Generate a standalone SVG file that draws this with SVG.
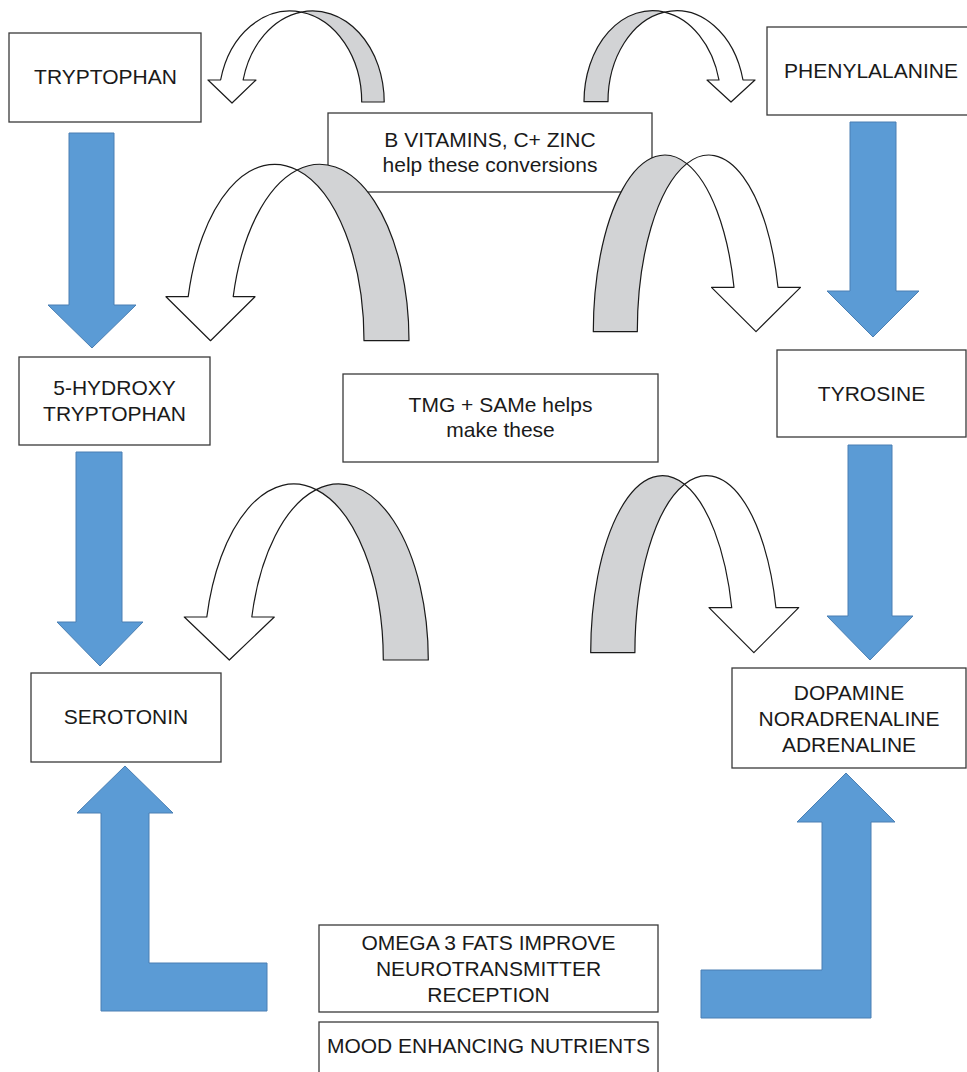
<svg xmlns="http://www.w3.org/2000/svg" width="967" height="1072" viewBox="0 0 967 1072">
<style>
.box{fill:#ffffff;stroke:#3a3a3a;stroke-width:1.3}
.t{font-family:"Liberation Sans",Arial,sans-serif;font-size:21px;fill:#1a1a1a;text-anchor:middle}
.blue{fill:#5b9bd5;stroke:#4a7fb3;stroke-width:1}
.front{fill:#ffffff;stroke:#1a1a1a;stroke-width:1.2;stroke-linejoin:round}
.back{fill:#d2d3d5;stroke:#1a1a1a;stroke-width:1.2;stroke-linejoin:round}
</style>
<rect width="967" height="1072" fill="#ffffff"/>
<g id="b-vitamins">
<rect class="box" x="328" y="113" width="324" height="79"/>
<text class="t" x="490" y="147">B VITAMINS, C+ ZINC</text>
<text class="t" x="490" y="172">help these conversions</text>
</g>
<g id="tryptophan">
<rect class="box" x="9" y="33" width="192" height="89"/>
<text class="t" x="105.5" y="84">TRYPTOPHAN</text>
</g>
<g id="phenylalanine">
<rect class="box" x="767" y="27" width="212" height="88"/>
<text class="t" x="871" y="78">PHENYLALANINE</text>
</g>
<g id="hydroxytryptophan">
<rect class="box" x="19" y="357" width="191" height="88"/>
<text class="t" x="114.5" y="395">5-HYDROXY</text>
<text class="t" x="114.5" y="421">TRYPTOPHAN</text>
</g>
<g id="tmg-same">
<rect class="box" x="343" y="374" width="315" height="88"/>
<text class="t" x="500.5" y="412">TMG + SAMe helps</text>
<text class="t" x="500.5" y="437">make these</text>
</g>
<g id="tyrosine">
<rect class="box" x="777" y="350" width="189" height="87"/>
<text class="t" x="871.5" y="401">TYROSINE</text>
</g>
<g id="serotonin">
<rect class="box" x="31" y="673" width="190" height="89"/>
<text class="t" x="126" y="724">SEROTONIN</text>
</g>
<g id="dopamine">
<rect class="box" x="732" y="668" width="234" height="100"/>
<text class="t" x="849" y="700">DOPAMINE</text>
<text class="t" x="849" y="726">NORADRENALINE</text>
<text class="t" x="849" y="751.5">ADRENALINE</text>
</g>
<g id="omega3">
<rect class="box" x="319" y="925" width="339" height="87"/>
<text class="t" x="488.5" y="950">OMEGA 3 FATS IMPROVE</text>
<text class="t" x="488.5" y="976">NEUROTRANSMITTER</text>
<text class="t" x="488.5" y="1002">RECEPTION</text>
</g>
<g id="mood">
<rect class="box" x="319" y="1022" width="339" height="70"/>
<text class="t" x="488.5" y="1053">MOOD ENHANCING NUTRIENTS</text>
</g>
<g id="connectors">
<path class="blue" d="M69,133 L114,133 L114,305 L136,305 L92,348 L48,305 L69,305 Z"/>
<path class="blue" d="M76,452 L122,452 L122,622 L143,622 L100,666 L57,622 L76,622 Z"/>
<path class="blue" d="M850,122 L896,122 L896,291 L919,291 L873,337 L827,291 L850,291 Z"/>
<path class="blue" d="M848,445 L892,445 L892,616 L913,616 L870,660 L827,616 L848,616 Z"/>
<path class="blue" d="M125,766 L173,813 L149,813 L149,963 L267,963 L267,1011 L101,1011 L101,813 L77,813 Z"/>
<path class="blue" d="M846,773 L895,822 L871,822 L871,1018 L701,1018 L701,970 L822,970 L822,822 L797,822 Z"/>
<path class="back" d="M301.35,12.1 A71.6,91 0 0 1 384.2,102 L361.7,102 A71.6,91 0 0 0 301.35,12.1 Z"/>
<path class="front" d="M220.6,80 A71.6,91 0 0 1 301.35,12.1 A71.6,91 0 0 0 243.1,80 L256,80 L232,103 L208,80 Z"/>
<path class="back" d="M664.5,12.1 A68.5,91 0 0 0 584,101.7 L608,101.7 A68.5,91 0 0 1 664.5,12.1 Z"/>
<path class="front" d="M743,80 A68.5,91 0 0 0 664.5,12.1 A68.5,91 0 0 1 719,80 L707,80 L731,102 L755,80 Z"/>
<path class="back" d="M297.2,170 A89.3,176.4 0 0 1 409,340.7 L364,340.7 A89.3,176.4 0 0 0 297.2,170 Z"/>
<path class="front" d="M188.2,296.7 A89.3,176.4 0 0 1 297.2,170 A89.3,176.4 0 0 0 233.2,296.7 L255,296.7 L210.5,340.7 L166,296.7 Z"/>
<path class="back" d="M686.8,163.6 A71.5,176.7 0 0 0 593.3,331.7 L637.3,331.7 A71.5,176.7 0 0 1 686.8,163.6 Z"/>
<path class="front" d="M778,287.3 A71.5,176.7 0 0 0 686.8,163.6 A71.5,176.7 0 0 1 734,287.3 L711.5,287.3 L756,331.7 L800.5,287.3 Z"/>
<path class="back" d="M316.2,489.6 A89.6,176 0 0 1 428.3,660 L383.3,660 A89.6,176 0 0 0 316.2,489.6 Z"/>
<path class="front" d="M206.8,617 A89.6,176 0 0 1 316.2,489.6 A89.6,176 0 0 0 251.8,617 L274.3,617 L229.3,660 L184.3,617 Z"/>
<path class="back" d="M684.5,484.3 A71.7,177 0 0 0 590.7,652.7 L634.9,652.7 A71.7,177 0 0 1 684.5,484.3 Z"/>
<path class="front" d="M775.95,607.7 A71.7,177 0 0 0 684.5,484.3 A71.7,177 0 0 1 731.75,607.7 L709,607.7 L753.85,652.7 L798.7,607.7 Z"/>
</g>
</svg>
